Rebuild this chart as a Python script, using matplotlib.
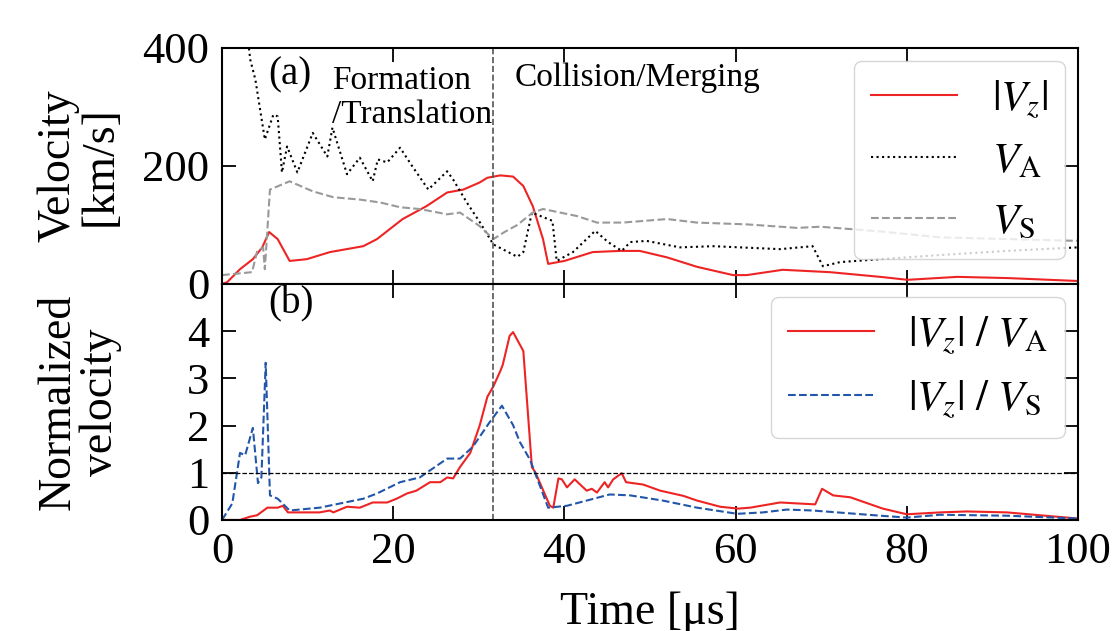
#!/usr/bin/env python3
"""
Velocity evolution during formation/translation and collision/merging.

(a) |Vz|, Alfven speed VA and sound speed VS.
(b) |Vz| normalized by VA and VS.
"""

import matplotlib.pyplot as plt


# (a) velocities [km/s]
VZ_TIME = [0, 0.6, 2.1, 3.6, 4.7, 5.5, 6.5, 7.9, 9.9, 12.6, 16.5, 18.1,
           21.1, 23.9, 26.3, 28.2, 30.1, 31.0, 32.5, 34.0, 35.2, 36.3,
           37.5, 38.1, 40.0, 43.3, 46.5, 48.8, 52.0, 55.5, 59.7, 61.3,
           65.5, 71.0, 76.9, 80.1, 85.9, 91.7, 100]
VZ = [0, 3, 25, 42, 62, 88, 76, 39, 42, 54, 64, 76,
      110, 132, 155, 160, 172, 180, 184, 182, 166, 132,
      76, 34, 39, 54, 56, 56, 45, 29, 15, 15,
      24, 20, 12, 7, 12, 10, 5]

VA_TIME = [0, 2.5, 3.3, 3.9, 4.4, 5.0, 6.0, 6.5, 7.0, 7.6, 8.8, 10.6,
           12.3, 12.9, 14.6, 16.1, 17.6, 18.2, 19.3, 20.8, 22.2, 24.1,
           26.3, 27.0, 28.6, 30.1, 31.7, 34.5, 35.2, 36.2, 38.6, 39.1,
           41.0, 43.6, 45.1, 46.7, 47.7, 49.6, 53.5, 57.4, 65.2, 69.0,
           70.2, 72.2, 76.9, 83.9, 91.7, 100]
VA = [1000, 480, 380, 346, 300, 245, 287, 284, 189, 233, 189, 256,
      216, 265, 186, 214, 174, 211, 206, 231, 200, 160,
      191, 177, 138, 105, 67, 46, 54, 121, 107, 39,
      54, 90, 71, 56, 71, 73, 62, 64, 59, 64,
      30, 37, 42, 49, 56, 62]

VS_TIME = [0, 3.5, 4.1, 4.8, 5.0, 5.6, 7.9, 10.6, 13.0, 16.1, 18.5,
           20.8, 23.1, 26.3, 27.8, 29.3, 30.1, 31.7, 33.0, 34.5, 36.3,
           37.5, 41.5, 43.8, 46.8, 52.0, 55.5, 61.3, 67.2, 69.9, 76.9,
           83.9, 100]
VS = [15, 20, 55, 62, 25, 160, 174, 157, 147, 143, 138,
      130, 127, 118, 121, 106, 98, 76, 88, 100, 121,
      127, 115, 104, 104, 110, 104, 101, 95, 97, 89,
      79, 73]

# (b) normalized velocities
RA_TIME = [0, 2.1, 3.3, 4.1, 5.3, 6.5, 7.1, 7.7, 8.8, 11.4, 12.6, 13.0,
           14.6, 16.1, 17.6, 19.3, 20.4, 21.6, 22.7, 24.3, 25.5, 26.3,
           27.0, 27.8, 29.0, 30.1, 31.0, 31.7, 32.5, 32.8, 33.6, 34.0,
           35.2, 36.2, 36.6, 38.3, 38.7, 39.3, 39.7, 40.3, 41.2, 42.6,
           43.2, 43.8, 44.7, 45.1, 45.7, 46.7, 47.2, 49.2, 51.2, 53.9,
           55.5, 58.2, 60.3, 61.7, 65.2, 67.2, 69.3, 70.1, 71.4, 73.4,
           77.2, 80.0, 83.9, 87.0, 91.7, 100]
RA = [0, 0, 0.07, 0.10, 0.26, 0.26, 0.30, 0.16, 0.16, 0.16, 0.20, 0.16,
      0.28, 0.26, 0.37, 0.37, 0.45, 0.56, 0.62, 0.80, 0.80, 0.90,
      0.88, 1.12, 1.42, 2.00, 2.61, 2.83, 3.15, 3.29, 3.90, 3.98,
      3.58, 1.12, 1.01, 0.30, 0.26, 0.88, 0.86, 0.69, 0.86, 0.62,
      0.66, 0.58, 0.80, 0.69, 0.86, 0.99, 0.80, 0.75, 0.62, 0.51,
      0.41, 0.28, 0.24, 0.26, 0.37, 0.35, 0.33, 0.66, 0.52, 0.48,
      0.24, 0.12, 0.16, 0.18, 0.16, 0.03]

RS_TIME = [0, 1.2, 2.1, 2.7, 3.6, 4.2, 4.6, 5.1, 5.6, 6.5, 7.9, 11.4,
           16.5, 18.1, 20.8, 23.1, 26.3, 27.8, 29.3, 31.3, 32.7, 34.0,
           34.8, 36.0, 38.1, 40.3, 45.3, 47.7, 51.5, 55.5, 60.2, 63.2,
           66.0, 69.0, 76.9, 80.0, 83.9, 91.7, 100]
RS = [0, 0.35, 1.42, 1.37, 1.95, 0.78, 0.90, 3.33, 0.52, 0.45, 0.20, 0.26,
      0.45, 0.56, 0.80, 0.90, 1.30, 1.30, 1.55, 2.08, 2.42, 2.01,
      1.65, 1.27, 0.26, 0.30, 0.54, 0.52, 0.41, 0.26, 0.13, 0.16,
      0.22, 0.20, 0.09, 0.05, 0.11, 0.09, 0.03]

PHASE_BOUNDARY = 31.6

RED = "#ee2424"
BLUE = "#2256aa"
GRAY = "#999999"


def style_axis(axis):
    axis.tick_params(
        direction="in",
        top=True,
        right=True,
        length=10,
        width=1.3,
        labelsize=32,
        pad=9,
    )
    for spine in axis.spines.values():
        spine.set_linewidth(1.5)


def main():
    plt.rcParams["font.family"] = ["Liberation Serif", "DejaVu Serif"]
    plt.rcParams["mathtext.fontset"] = "stix"

    figure, (ax_a, ax_b) = plt.subplots(
        2, 1, figsize=(11.18, 6.31), dpi=100, sharex=True
    )
    figure.subplots_adjust(
        left=0.1986, right=0.9642, top=0.924, bottom=0.176, hspace=0
    )

    # (a)
    ax_a.plot(VZ_TIME, VZ, color=RED, lw=1.5, label=r"$|V_z|$")
    ax_a.plot(VA_TIME, VA, color="black", lw=1.5, ls=":",
              label=r"$V_\mathrm{A}$")
    ax_a.plot(VS_TIME, VS, color=GRAY, lw=1.5, ls="--",
              label=r"$V_\mathrm{S}$")
    ax_a.axvline(PHASE_BOUNDARY, color="#555555", lw=1.2, ls="--")
    ax_a.set_ylim(0, 400)
    ax_a.set_yticks([0, 200, 400])
    ax_a.set_ylabel("Velocity\n[km/s]", fontsize=33, linespacing=1.0)
    ax_a.yaxis.set_label_coords(-0.117, 0.5)
    style_axis(ax_a)
    ax_a.legend(loc="upper right", fontsize=31, borderaxespad=0.3,
                handlelength=2.0)

    ax_a.text(0.054, 0.886, "(a)", transform=ax_a.transAxes,
              fontsize=28, ha="left", va="center")
    ax_a.text(0.128, 0.925, "Formation\n/Translation",
              transform=ax_a.transAxes, fontsize=24, ha="left", va="top",
              linespacing=1.15)
    ax_a.text(0.342, 0.873, "Collision/Merging", transform=ax_a.transAxes,
              fontsize=24, ha="left", va="center")

    # (b)
    ax_b.plot(RA_TIME, RA, color=RED, lw=1.5,
              label=r"$|V_z|\ /\ V_\mathrm{A}$")
    ax_b.plot(RS_TIME, RS, color=BLUE, lw=1.5, ls="--",
              label=r"$|V_z|\ /\ V_\mathrm{S}$")
    ax_b.axvline(PHASE_BOUNDARY, color="#555555", lw=1.2, ls="--")
    ax_b.axhline(1, color="black", lw=0.9, ls="--")
    ax_b.set_ylim(0, 5)
    ax_b.set_yticks([0, 1, 2, 3, 4])
    ax_b.set_xlim(0, 100)
    ax_b.set_xticks([0, 20, 40, 60, 80, 100])
    ax_b.set_xlabel("Time [\u03bcs]", fontsize=33, labelpad=14)
    ax_b.set_ylabel("Normalized\nvelocity", fontsize=33, linespacing=1.0)
    ax_b.yaxis.set_label_coords(-0.117, 0.5)
    style_axis(ax_b)
    ax_b.legend(loc="upper right", fontsize=31, borderaxespad=0.3,
                handlelength=2.0)

    ax_b.text(0.054, 0.915, "(b)", transform=ax_b.transAxes,
              fontsize=28, ha="left", va="center")

    figure.savefig("out.png", dpi=100)
    plt.close(figure)


if __name__ == "__main__":
    main()
